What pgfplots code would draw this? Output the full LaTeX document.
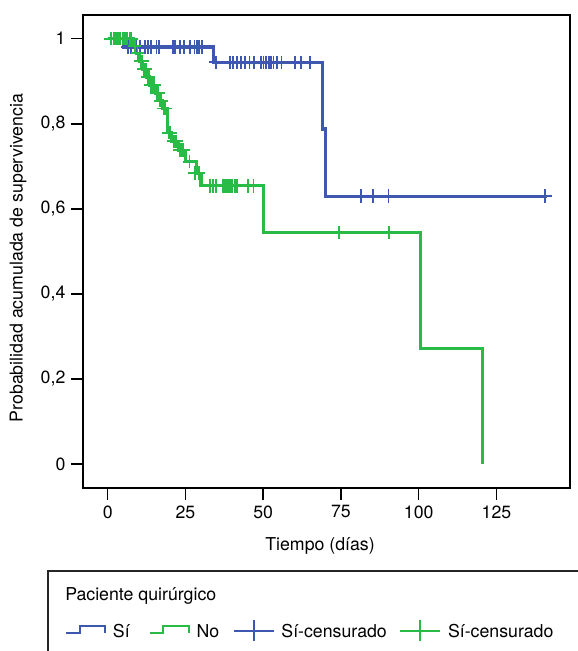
\documentclass[border=0pt,12pt]{standalone}
\usepackage{fontspec}
\setmainfont{TeX Gyre Heros}
\usepackage{pgfplots}
\pgfplotsset{compat=1.18}
\definecolor{kmblue}{RGB}{62,88,178}
\definecolor{kmgreen}{RGB}{40,188,70}
\newcommand{\lf}{\fontsize{13.3}{16}\selectfont}
\pgfplotsset{
  steplegend/.style={legend image code/.code={\draw[##1, line width=1.6pt, line join=miter] (0pt,-1.2pt) -- (10pt,-1.2pt) -- (10pt,4.3pt) -- (29.2pt,4.3pt) -- (29.2pt,-1.2pt);}},
  crosslegend/.style={legend image code/.code={\draw[##1, line width=1.6pt] (0pt,0.8pt) -- (30pt,0.8pt); \draw[##1, line width=1.6pt] (15pt,-7.2pt) -- (15pt,8.8pt);}},
}
\begin{document}
\begin{tikzpicture}[x=1pt,y=1pt]
\begin{axis}[
  at={(0,0)}, anchor=south west,
  scale only axis, width=365.25pt, height=354.75pt,
  xmin=-7.94, xmax=148.65, ymin=-0.0564, ymax=1.0557,
  axis line style={line width=1.2pt, black},
  major tick style={line width=1.2pt, black},
  tick align=outside, major tick length=9pt,
  xtick pos=bottom, ytick pos=left,
  xtick={0,25,50,75,100,125},
  ytick={0,0.2,0.4,0.6,0.8,1},
  yticklabels={0,{0,2},{0,4},{0,6},{0,8},1},
  /pgf/number format/assume math mode=true,
  tick label style={font=\lf},
  label style={font=\lf},
  xlabel={Tiempo (días)},
  ylabel={Probabilidad acumulada de supervivencia},
  xlabel style={at={(axis description cs:0.4867,-0.1226)}, anchor=center},
  ylabel style={at={(axis description cs:-0.1335,0.486)}, anchor=center},
  legend columns=4,
  legend cell align=left,
  legend style={at={(axis description cs:-0.037,-0.3017)}, anchor=west, draw=none, fill=none, inner sep=0pt, column sep=5pt, nodes={inner sep=0pt}, font=\lf},
]
% Blue (Si)
\addplot[kmblue, line width=2.3pt, const plot, line join=miter, forget plot] coordinates {
(0,1.0) (5,0.9805) (34,0.9445) (69,0.7877) (70.1,0.630) (141.2,0.630)};
\addplot[kmblue, only marks, mark=+, mark size=5pt, mark options={line width=1.4pt}, forget plot] coordinates {
(6.5,0.9805) (7.5,0.9805) (9,0.9805) (10.5,0.9805) (12,0.9805) (13.1,0.9805) (13.9,0.9805) (15.7,0.9805) (16.6,0.9805) (20.9,0.9805) (21.6,0.9805) (23.3,0.9805) (24.6,0.9805) (26.5,0.9805) (27.9,0.9805) (28.6,0.9805) (29.4,0.9805) (30.2,0.9805)
(34.8,0.9445) (39.3,0.9445) (40.2,0.9445) (41.5,0.9445) (42.8,0.9445) (44.2,0.9445) (45.6,0.9445) (47.0,0.9445) (49.4,0.9445) (50.1,0.9445) (50.9,0.9445) (51.8,0.9445) (52.5,0.9445) (53.3,0.9445) (54.5,0.9445) (55.9,0.9445) (60.2,0.9445) (62.1,0.9445) (65.1,0.9445)
(81.4,0.630) (85.3,0.630) (90.3,0.630) (140.7,0.630)};
% Green (No)
\addplot[kmgreen, line width=2.3pt, const plot, line join=miter, forget plot] coordinates {
(0,1.0) (8.2,0.982) (9.2,0.966) (10.2,0.947) (11.2,0.928) (12.5,0.91) (13.5,0.891) (15.5,0.872) (16.5,0.854) (17.5,0.836) (19.2,0.779) (20.6,0.759) (22.7,0.738) (24.9,0.711) (28.6,0.684) (30.0,0.654) (50.0,0.544) (100.6,0.272) (120.6,0)};
\addplot[kmgreen, only marks, mark=+, mark size=5pt, mark options={line width=1.4pt}, forget plot] coordinates {
(1.0,1.0) (2.0,1.0) (2.6,1.0) (3.3,1.0) (4.0,1.0) (4.8,1.0) (5.5,1.0) (6.3,1.0) (7.0,1.0) (7.6,1.0)
(8.7,0.982) (9.6,0.966) (10.6,0.947) (11.0,0.947) (11.7,0.928) (12.2,0.928) (12.9,0.91) (13.2,0.91)
(13.9,0.891) (14.6,0.891) (15.0,0.891) (15.9,0.872) (16.3,0.872) (16.9,0.854) (17.2,0.854) (18.0,0.836) (18.6,0.836)
(19.7,0.779) (20.2,0.779) (21.3,0.759) (22.0,0.759) (23.2,0.738) (23.7,0.738) (24.3,0.738) (26.3,0.711) (28.0,0.684) (29.3,0.684)
(33.0,0.654) (33.9,0.654) (34.7,0.654) (37.1,0.654) (37.6,0.654) (38.2,0.654) (38.7,0.654) (39.2,0.654) (40.1,0.654) (40.8,0.654) (41.6,0.654) (45.1,0.654) (46.9,0.654)
(74.4,0.544) (90.4,0.544)};
% Legend
\addlegendimage{kmblue, steplegend}
\addlegendentry{Sí\rule{9.4pt}{0pt}}
\addlegendimage{kmgreen, steplegend}
\addlegendentry{No\rule{5pt}{0pt}}
\addlegendimage{kmblue, crosslegend}
\addlegendentry{Sí-censurado\rule{4.3pt}{0pt}}
\addlegendimage{kmgreen, crosslegend}
\addlegendentry{Sí-censurado}
\end{axis}
\node[anchor=base west, font=\lf, inner sep=0pt] at (-13.5,-84.5) {Paciente quirúrgico};
\draw[line width=1.1pt, black!85] (-26.25,-62.25) rectangle (420,-160);
\pgfresetboundingbox
\path[use as bounding box] (-62.25,-122.25) rectangle (371.25,366);
\end{tikzpicture}
\end{document}
